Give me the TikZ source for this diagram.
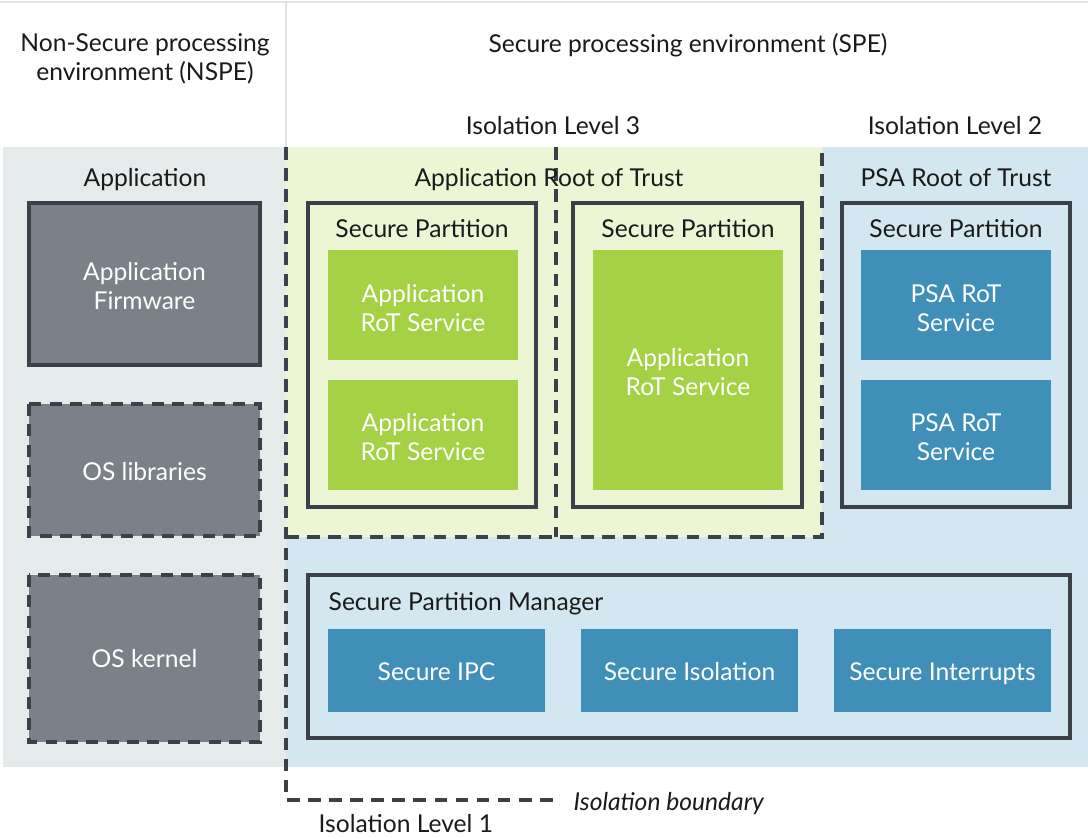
\documentclass[tikz,border=0pt]{standalone}
\usepackage{fontspec}
\setmainfont{Lato}
\definecolor{ink}{HTML}{1A1A1A}
\definecolor{rulegray}{HTML}{E2E2E2}
\definecolor{nspebg}{HTML}{E5EBEB}
\definecolor{appbg}{HTML}{EDF6D4}
\definecolor{psabg}{HTML}{D2E7EF}
\definecolor{edge}{HTML}{3A4149}
\definecolor{osgray}{HTML}{7B8188}
\definecolor{svcgreen}{HTML}{A5D144}
\definecolor{svcblue}{HTML}{3F8FB8}
\tikzset{
  every node/.style={font=\fontsize{17.5pt}{20.6pt}\selectfont, text=ink, inner sep=1pt},
  wtext/.style={text=white, align=center},
  solidbox/.style={draw=edge, line width=2.4pt},
  dashbox/.style={draw=edge, line width=2.4pt, dash pattern=on 8.5pt off 6pt},
  boundary/.style={draw=edge, line width=2.4pt, dash pattern=on 9pt off 6pt}
}
\begin{document}
\begin{tikzpicture}[x=0.025cm,y=-0.025cm]
\useasboundingbox (0,0) rectangle (1088,838);

% backgrounds
\fill[nspebg] (3,147) rectangle (286,767);
\fill[psabg] (286,147) rectangle (1088,767);
\fill[appbg] (286,147) rectangle (822,537);
\draw[rulegray, line width=2pt] (0,2) -- (1088,2);
\draw[rulegray, line width=2pt] (286,2) -- (286,147);

% isolation boundaries
\draw[boundary] (286,147) -- (286,800) -- (560,800);
\draw[boundary] (286,537) -- (822,537) -- (822,147);
\draw[boundary] (556,147) -- (556,537);

% headings
\node[align=center] (nspe) at (145,59) {Non-Secure processing\\environment (NSPE)};
\node (spe) at (688,45) {Secure processing environment (SPE)};
\node (lvlthree) at (553,126) {Isolation Level 3};
\node (lvltwo) at (955,126) {Isolation Level 2};
\node (app) at (145,180) {Application};
\node (approt) at (549,180) {Application Root of Trust};
\node (psarot) at (956,178) {PSA Root of Trust};

% non-secure side
\draw[solidbox, fill=osgray] (29,203) rectangle (260,365);
\node[wtext] (appfw) at (144.5,286) {Application\\Firmware};
\draw[dashbox, fill=osgray] (29,404) rectangle (260,536);
\node[wtext] (oslib) at (144.5,472) {OS libraries};
\draw[dashbox, fill=osgray] (29,575) rectangle (260,742);
\node[wtext] (oskernel) at (144.5,659) {OS kernel};

% secure partitions
\draw[solidbox] (308,203) rectangle (536,507);
\node (spone) at (422,229) {Secure Partition};
\fill[svcgreen] (328,250) rectangle (518,360);
\node[wtext] (svcone) at (423,308) {Application\\RoT Service};
\fill[svcgreen] (328,380) rectangle (518,490);
\node[wtext] (svctwo) at (423,437) {Application\\RoT Service};

\draw[solidbox] (573,203) rectangle (802,507);
\node (sptwo) at (688,229) {Secure Partition};
\fill[svcgreen] (593,250) rectangle (783,490);
\node[wtext] (svcthree) at (688,372) {Application\\RoT Service};

\draw[solidbox] (842,203) rectangle (1070,507);
\node (spthree) at (956,229) {Secure Partition};
\fill[svcblue] (861,250) rectangle (1051,360);
\node[wtext] (psaone) at (956,308) {PSA RoT\\Service};
\fill[svcblue] (861,380) rectangle (1051,490);
\node[wtext] (psatwo) at (956,437) {PSA RoT\\Service};

% partition manager
\draw[solidbox] (308,575) rectangle (1070,738);
\node[anchor=west] (spm) at (327,604) {Secure Partition Manager};
\foreach \x/\name/\txt/\dy in {328/ipc/Secure IPC/1,581/iso/Secure Isolation/1,834/irq/Secure Interrupts/2.5} {%
	\fill[svcblue] (\x,629) rectangle (\x+217,712);
	\node[wtext] (\name) at (\x+108.5,671+\dy) {\txt};
}

% legend
\node[anchor=west] (bndlabel) at (572,804) {\itshape Isolation boundary};
\node[anchor=west] (lvlone) at (317,824) {Isolation Level 1};

\end{tikzpicture}
\end{document}
